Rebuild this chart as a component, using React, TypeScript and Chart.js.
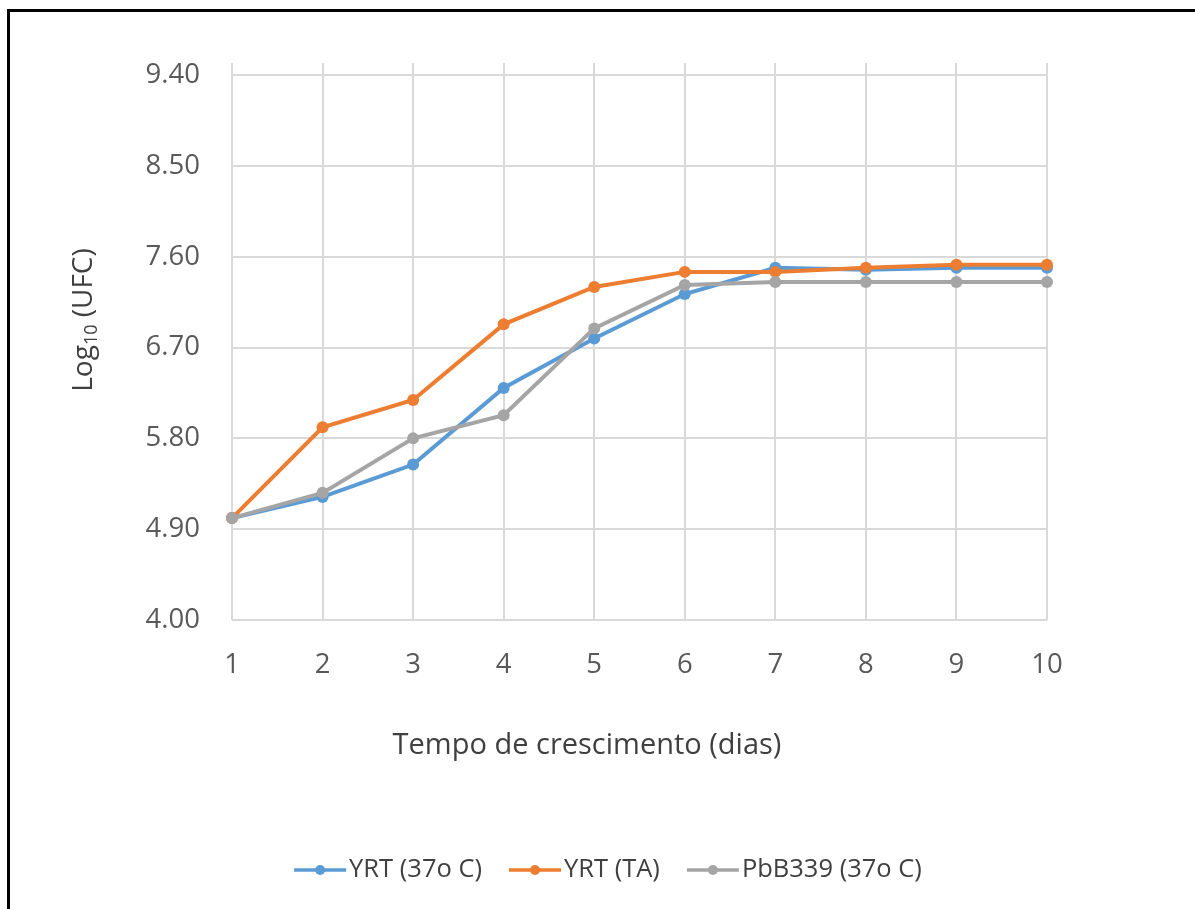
import React, { useEffect, useRef } from "react";
import { Chart, registerables } from "chart.js";

Chart.register(...registerables);

const categories = ["1", "2", "3", "4", "5", "6", "7", "8", "9", "10"];
const yrt37 = [5.01, 5.22, 5.54, 6.3, 6.79, 7.23, 7.49, 7.47, 7.49, 7.49];
const yrtTA = [5.01, 5.91, 6.18, 6.93, 7.3, 7.45, 7.45, 7.49, 7.52, 7.52];
const pbb339 = [5.01, 5.26, 5.8, 6.03, 6.89, 7.32, 7.35, 7.35, 7.35, 7.35];
const seriesNames = ["YRT (37o C)", "YRT (TA)", "PbB339 (37o C)"];
const seriesColors = ["#5B9BD5", "#ED7D31", "#A5A5A5"];
const yTicks = [4.0, 4.9, 5.8, 6.7, 7.6, 8.5, 9.4];
const xTitle = "Tempo de crescimento (dias)";
const yTitleParts = ["Log", "10", " (UFC)"];

const FONT = "'Open Sans', 'DejaVu Sans', sans-serif";

const customText = {
  id: "customText",
  afterDraw(chart: any) {
    const ctx = chart.ctx;
    ctx.save();
    // x title
    ctx.fillStyle = "#404040";
    ctx.font = `29px ${FONT}`;
    ctx.textAlign = "center";
    ctx.textBaseline = "middle";
    ctx.fillText(xTitle, 587, 746);

    // y title with subscript
    ctx.save();
    ctx.translate(82, 320);
    ctx.rotate(-Math.PI / 2);
    const size = 28;
    const subSize = 18;
    ctx.textAlign = "left";
    ctx.textBaseline = "alphabetic";
    ctx.font = `${size}px ${FONT}`;
    const w1 = ctx.measureText(yTitleParts[0]).width;
    const w3 = ctx.measureText(yTitleParts[2]).width;
    ctx.font = `${subSize}px ${FONT}`;
    const w2 = ctx.measureText(yTitleParts[1]).width;
    const total = w1 + w2 + w3;
    let x = -total / 2;
    const base = size * 0.36;
    ctx.font = `${size}px ${FONT}`;
    ctx.fillText(yTitleParts[0], x, base);
    x += w1;
    ctx.font = `${subSize}px ${FONT}`;
    ctx.fillText(yTitleParts[1], x, base + size * 0.18);
    x += w2;
    ctx.font = `${size}px ${FONT}`;
    ctx.fillText(yTitleParts[2], x, base);
    ctx.restore();

    // legend
    ctx.font = `25.5px ${FONT}`;
    const lineLen = 52;
    const gapText = 3;
    const gapItem = 27;
    const widths = seriesNames.map((n) => ctx.measureText(n).width);
    const totalW =
      widths.reduce((a, b) => a + b, 0) +
      seriesNames.length * (lineLen + gapText) +
      (seriesNames.length - 1) * gapItem;
    let lx = 608 - totalW / 2;
    const ly = 870;
    seriesNames.forEach((name, i) => {
      ctx.strokeStyle = seriesColors[i];
      ctx.lineWidth = 3.5;
      ctx.beginPath();
      ctx.moveTo(lx, ly);
      ctx.lineTo(lx + lineLen, ly);
      ctx.stroke();
      ctx.fillStyle = seriesColors[i];
      ctx.beginPath();
      ctx.arc(lx + lineLen / 2, ly, 5, 0, Math.PI * 2);
      ctx.fill();
      ctx.fillStyle = "#404040";
      ctx.textAlign = "left";
      ctx.textBaseline = "middle";
      ctx.fillText(name, lx + lineLen + gapText, ly);
      lx += lineLen + gapText + widths[i] + gapItem;
    });
    ctx.restore();
  },
};

export default function App() {
  const ref = useRef<HTMLCanvasElement | null>(null);
  useEffect(() => {
    if (!ref.current) return;
    const mk = (label: string, data: number[], color: string, order: number) => ({
      label,
      data,
      borderColor: color,
      backgroundColor: color,
      borderWidth: 4,
      pointRadius: 6,
      pointBackgroundColor: color,
      pointBorderColor: color,
      pointBorderWidth: 0,
      tension: 0,
      order,
    });
    const chart = new Chart(ref.current, {
      type: "line",
      data: {
        labels: categories,
        datasets: [
          mk(seriesNames[0], yrt37, seriesColors[0], 3),
          mk(seriesNames[1], yrtTA, seriesColors[1], 2),
          mk(seriesNames[2], pbb339, seriesColors[2], 1),
        ],
      },
      options: {
        responsive: false,
        animation: false,
        devicePixelRatio: 1,
        layout: { padding: { left: 82, top: 63, right: 148, bottom: 229 } },
        plugins: { legend: { display: false }, tooltip: { enabled: false } },
        scales: {
          x: {
            offset: false,
            grid: { color: "#D9D9D9", lineWidth: 2, drawTicks: false },
            border: { display: false },
            ticks: {
              color: "#595959",
              font: { family: FONT, size: 27.5 },
              padding: 29,
              maxRotation: 0,
            },
            afterFit: (s: any) => {
              s.height = 60;
            },
          },
          y: {
            min: 4,
            max: 9.52,
            grid: { color: "#D9D9D9", lineWidth: 2, drawTicks: false },
            border: { display: false },
            afterBuildTicks: (s: any) => {
              s.ticks = yTicks.map((v) => ({ value: v }));
            },
            ticks: {
              color: "#595959",
              font: { family: FONT, size: 27.5 },
              padding: 32,
              callback: (v: any) => Number(v).toFixed(2),
            },
            afterFit: (s: any) => {
              s.width = 150;
            },
          },
        },
      },
      plugins: [customText],
    });
    return () => chart.destroy();
  }, []);
  return (
    <div style={{ position: "absolute", left: 0, top: 0, width: 1195, height: 909, background: "#fff" }}>
      <canvas ref={ref} width={1195} height={909} style={{ position: "absolute", left: 0, top: 0 }} />
      <div
        style={{
          position: "absolute",
          left: 7,
          top: 9,
          width: 1188,
          height: 900,
          borderTop: "3px solid #000",
          borderLeft: "3px solid #000",
          boxSizing: "border-box",
        }}
      />
    </div>
  );
}
